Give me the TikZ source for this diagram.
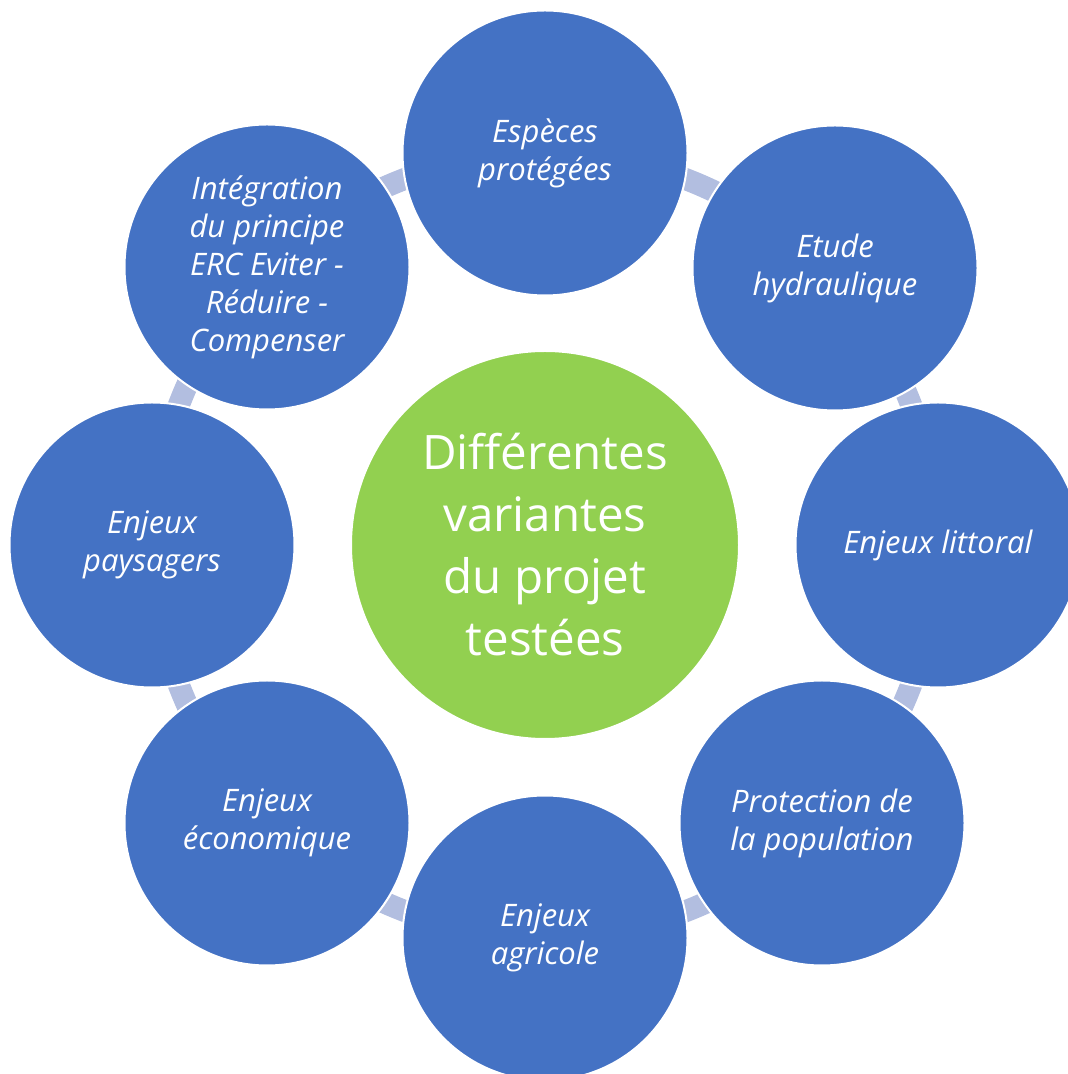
\documentclass[tikz,border=0pt]{standalone}
\usepackage{fontspec}
\setmainfont{Open Sans}
\usetikzlibrary{calc,backgrounds}
\definecolor{topicblue}{HTML}{4472C4}
\definecolor{hubgreen}{HTML}{92D050}
\definecolor{linkblue}{RGB}{178,190,224}
\begin{document}
\begin{tikzpicture}[x=1pt,y=1pt,
  topic/.style={circle, fill=topicblue, draw=white, line width=2pt,
    minimum size=285pt, inner sep=0pt, align=center, text=white,
    font=\fontsize{31}{38}\selectfont\itshape},
  hubnode/.style={circle, fill=hubgreen, draw=white, line width=2pt,
    minimum size=388pt, inner sep=0pt, align=center, text=white,
    font=\fontsize{47.5}{62}\selectfont},
  link/.style={draw=linkblue, line width=22pt}]
\useasboundingbox (0,0) rectangle (1068,1074);
\clip (0,0) rectangle (1068,1074);

% central theme
\node[hubnode] (hub) at (545,529) {Différentes\\variantes\\du projet\\testées};

% surrounding topics
\node[topic] (esp) at (545,921) {Espèces\\protégées};
\node[topic] (hyd) at (835,806) {Etude\\hydraulique};
\node[topic] (lit) at (938,529) {Enjeux littoral};
\node[topic] (pop) at (822,251) {Protection de\\la population};
\node[topic] (agr) at (545,136) {Enjeux\\agricole};
\node[topic] (eco) at (267,251) {Enjeux\\économique};
\node[topic] (pay) at (152,529) {Enjeux\\paysagers};
\node[topic] (erc) at (267,807) {Intégration\\du principe\\ERC Eviter -\\Réduire -\\Compenser};

% ring segments linking neighbouring topics
\begin{pgfonlayer}{background}
  \foreach \a/\sa/\ea in {esp/90/43.7, hyd/43.7/0, lit/0/-45, pop/-45/-90,
                          agr/-90/-135, eco/-135/-180, pay/180/135, erc/135/90}
    \draw[link] ($(hub)!392pt!(\a)$) arc[start angle=\sa, end angle=\ea, radius=392];
\end{pgfonlayer}
\end{tikzpicture}
\end{document}
